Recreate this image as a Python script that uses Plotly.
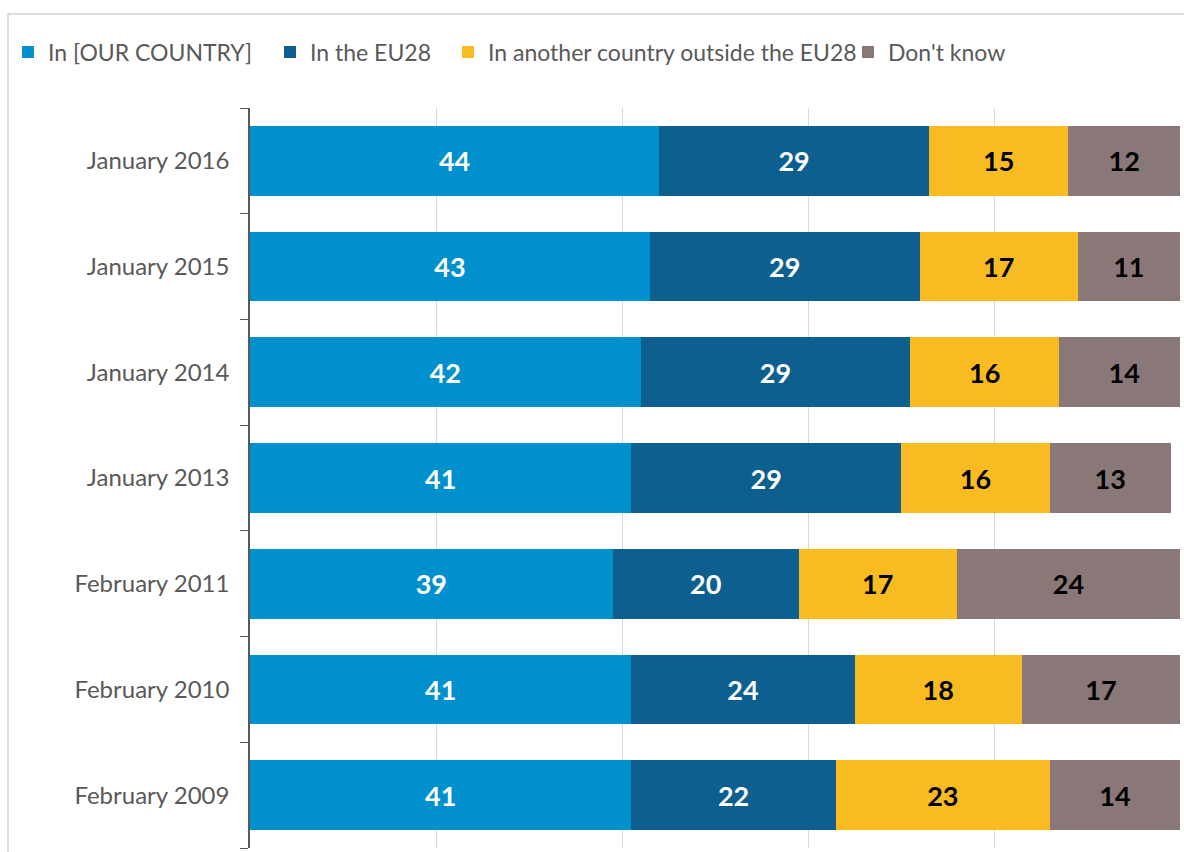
import plotly.graph_objects as go

# Survey waves, top to bottom as displayed
waves = ["January 2016", "January 2015", "January 2014", "January 2013",
         "February 2011", "February 2010", "February 2009"]

# Share of answers (%) per wave
our_country = [44, 43, 42, 41, 39, 41, 41]
eu28 = [29, 29, 29, 29, 20, 24, 22]
outside_eu28 = [15, 17, 16, 16, 17, 18, 23]
dont_know = [12, 11, 14, 13, 24, 17, 14]

series = [
    ("In [OUR COUNTRY]", our_country, "#0090CD", "white"),
    ("In the EU28", eu28, "#0D5F8F", "white"),
    ("In another country outside the EU28", outside_eu28, "#F9BB22", "black"),
    ("Don't know", dont_know, "#8A7879", "black"),
]

FONT = "Lato, Liberation Sans, Arial, sans-serif"
TEXT_GREY = "#595959"

# Plot area geometry (pixels) used to place the per-series legends
W, H = 1184, 852
ML, MR, MT, MB = 250, 4, 108, 4
PW, PH = W - ML - MR, H - MT - MB
legend_left_px = [8, 270, 448, 848]
legend_mid_px = 52

fig = go.Figure()
for i, (name, vals, color, txtcol) in enumerate(series):
    lg = "legend" if i == 0 else f"legend{i + 1}"
    fig.add_trace(go.Bar(
        y=waves, x=vals, name=name, orientation="h",
        marker=dict(color=color, line=dict(width=0)),
        text=vals, texttemplate="%{text}",
        textposition="inside", insidetextanchor="middle", textangle=0,
        insidetextfont=dict(family=FONT, size=27, color=txtcol, weight="bold"),
        hoverinfo="skip", legend=lg,
    ))

legend_style = dict(
    orientation="h", xanchor="left", yanchor="middle",
    y=1 + (MT - legend_mid_px) / PH,
    font=dict(family=FONT, size=23, color=TEXT_GREY),
    itemwidth=30, bgcolor="rgba(0,0,0,0)", borderwidth=0,
)
legends = {}
for i, px in enumerate(legend_left_px):
    key = "legend" if i == 0 else f"legend{i + 1}"
    legends[key] = dict(legend_style, x=(px - ML) / PW)

fig.update_layout(
    barmode="stack",
    bargap=0.34,
    width=W, height=H,
    margin=dict(l=ML, r=MR, t=MT, b=MB),
    paper_bgcolor="white", plot_bgcolor="white",
    font=dict(family=FONT, color=TEXT_GREY, size=24),
    showlegend=True,
    **legends,
)

fig.update_xaxes(
    range=[0, 100], showgrid=True, gridcolor="#D9D9D9", gridwidth=1,
    tickvals=[0, 20, 40, 60, 80, 100], showticklabels=False,
    zeroline=False, showline=False, ticks="",
)
fig.update_yaxes(
    categoryorder="array", categoryarray=waves[::-1],
    showline=True, linecolor=TEXT_GREY, linewidth=1.5,
    ticks="outside", tickson="boundaries", ticklen=8, tickcolor=TEXT_GREY,
    tickfont=dict(family=FONT, size=24, color=TEXT_GREY),
    ticklabelstandoff=14, showgrid=False,
)

# Light frame around the chart
fig.add_shape(type="rect", xref="paper", yref="paper",
              x0=(8 - ML) / PW, y0=-0.05, x1=1.05, y1=1 + (MT - 14) / PH,
              line=dict(color="#D0D0D0", width=1.5), fillcolor="rgba(0,0,0,0)",
              layer="below")

fig.write_html("out.html")
